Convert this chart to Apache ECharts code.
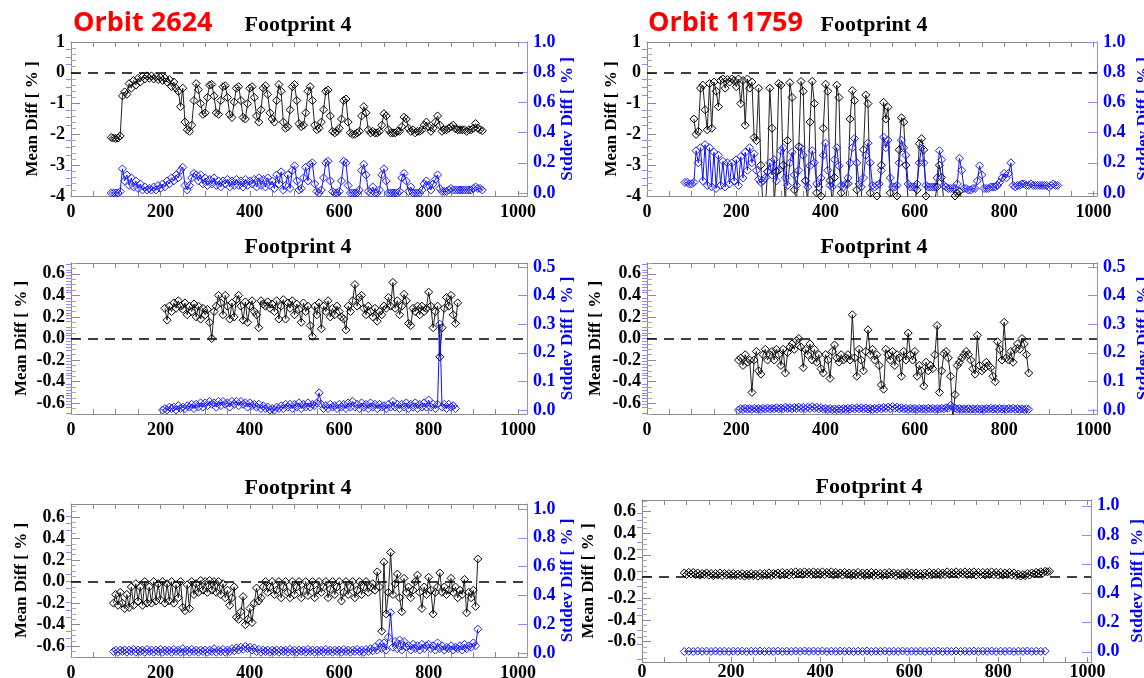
<!DOCTYPE html>
<html><head><meta charset="utf-8">
<script src="https://cdn.jsdelivr.net/npm/echarts@6/dist/echarts.min.js"></script>
<style>html,body{margin:0;padding:0;background:#fff}#c{width:1144px;height:678px}</style>
</head><body><div id="c"></div>
<script>
// ---------------- DATA (sampled every STEP scan indices) ----------------
const STEP = 5;
const xTickLabels = [0, 200, 400, 600, 800, 1000];
const orbitTitles = ['Orbit 2624', 'Orbit 11759'];
const panelTitle = 'Footprint 4';
const leftName = 'Mean Diff [ % ]';
const rightName = 'Stddev Diff [ % ]';

// Panel 1 (Orbit 2624, top-left)
const p1MeanStart = 90;
const p1Mean = [
 -2.10,-2.12,-2.13,-2.12,-2.05,-0.75,-0.62,-0.70,-0.35,-0.50,
 -0.25,-0.40,-0.18,-0.30,-0.12,-0.20,-0.10,-0.18,-0.10,-0.20,
 -0.12,-0.22,-0.15,-0.25,-0.17,-0.30,-0.22,-0.45,-0.30,-0.50,
 -0.60,-1.10,-0.50,-1.60,-1.85,-1.90,-1.70,-0.90,-0.35,-0.55,
 -1.00,-1.35,-1.30,-0.80,-0.40,-0.38,-0.75,-1.30,-1.35,-0.90,
 -0.45,-0.42,-0.80,-1.35,-1.45,-0.95,-0.50,-0.45,-0.90,-1.45,
 -1.50,-1.00,-0.50,-0.45,-0.80,-1.40,-1.60,-1.20,-0.50,-0.42,
 -0.70,-1.30,-1.50,-1.60,-0.90,-0.38,-0.60,-1.60,-1.80,-1.75,
 -1.20,-0.45,-0.38,-0.90,-1.65,-1.75,-1.70,-1.30,-0.60,-0.45,
 -0.90,-1.70,-1.85,-1.80,-1.60,-1.20,-0.60,-0.56,-1.40,-1.90,
 -1.95,-1.90,-1.80,-1.50,-0.90,-0.85,-1.60,-1.95,-2.00,-2.00,
 -1.95,-1.90,-1.40,-1.10,-1.30,-1.85,-1.95,-1.90,-1.95,-1.95,
 -1.90,-1.70,-1.33,-1.40,-1.85,-1.95,-1.95,-1.95,-1.90,-1.90,
 -1.75,-1.44,-1.50,-1.80,-1.90,-1.85,-1.95,-1.90,-1.90,-1.85,
 -1.70,-1.60,-1.75,-1.90,-1.80,-1.60,-1.40,-1.70,-1.90,-1.85,
 -1.85,-1.80,-1.75,-1.70,-1.82,-1.85,-1.85,-1.85,-1.85,-1.90,
 -1.85,-1.85,-1.80,-1.65,-1.80,-1.85,-1.88
];
const p1StdStart = 90;
const p1Std = [
 0.00,0.00,0.00,0.00,0.01,0.16,0.08,0.12,0.05,0.10,
 0.04,0.08,0.03,0.06,0.02,0.04,0.02,0.03,0.02,0.04,
 0.02,0.05,0.03,0.06,0.04,0.08,0.06,0.10,0.08,0.12,
 0.10,0.15,0.17,0.05,0.02,0.05,0.10,0.13,0.12,0.08,
 0.12,0.06,0.10,0.05,0.09,0.06,0.10,0.05,0.08,0.04,
 0.08,0.06,0.09,0.04,0.08,0.05,0.09,0.05,0.08,0.04,
 0.09,0.05,0.08,0.06,0.09,0.04,0.10,0.05,0.09,0.04,
 0.10,0.05,0.08,0.03,0.12,0.06,0.14,0.02,0.05,0.12,
 0.03,0.15,0.18,0.08,0.02,0.03,0.10,0.17,0.08,0.19,
 0.20,0.06,0.01,0.00,0.02,0.10,0.20,0.21,0.08,0.01,
 0.00,0.00,0.01,0.08,0.21,0.20,0.05,0.00,0.00,0.00,
 0.00,0.02,0.15,0.19,0.12,0.01,0.00,0.04,0.00,0.00,
 0.02,0.12,0.16,0.08,0.00,0.00,0.00,0.00,0.00,0.01,
 0.10,0.13,0.08,0.01,0.04,0.00,0.00,0.00,0.00,0.02,
 0.06,0.08,0.05,0.02,0.06,0.09,0.12,0.03,0.01,0.01,
 0.01,0.02,0.03,0.02,0.02,0.02,0.02,0.02,0.02,0.02,
 0.02,0.02,0.03,0.04,0.03,0.03,0.02
];

// Panel 2 (Orbit 11759, top-right)
const p2MeanStart = 105;
const p2Mean = [
 -1.5,-2.0,-1.9,-0.5,-0.4,-1.2,-1.85,-0.35,-1.8,-0.3,
 -0.6,-1.1,-0.25,-0.2,-0.5,-0.22,-0.3,-0.2,-0.25,-0.45,
 -0.2,-1.0,-0.25,-1.7,-0.2,-0.5,-0.3,-2.1,-2.2,-0.5,
 -3.0,-4.4,-4.4,-3.2,-0.5,-1.8,-4.2,-3.2,-0.35,-0.4,
 -3.0,-4.3,-2.2,-0.32,-0.8,-3.8,-4.2,-2.4,-0.28,-0.6,
 -3.5,-4.2,-1.6,-0.28,-1.0,-3.9,-4.3,-4.0,-1.8,-0.37,
 -0.6,-3.5,-4.2,-3.4,-0.4,-0.8,-3.9,-4.3,-4.1,-3.6,
 -1.5,-0.58,-0.9,-3.8,-4.3,-4.1,-2.5,-0.72,-1.0,-3.9,
 -4.3,-4.2,-4.0,-4.3,-3.0,-0.96,-1.5,-1.12,-3.9,-4.3,
 -4.2,-4.0,-2.5,-1.46,-1.6,-3.0,-4.2,-4.4,-4.3,-4.2,
 -3.8,-2.3,-2.14,-2.5,-4.0,-4.4,-4.3,-4.2,-4.1,-3.7,
 -3.0,-3.4,-4.2,-4.3,-4.2,-4.1,-4.2,-4.0,-3.9,-3.85,
 -4.1,-4.3
];
const p2StdStart = 85;
const p2Std = [
 0.07,0.07,0.06,0.06,0.07,0.28,0.20,0.30,0.08,0.32,
 0.05,0.30,0.04,0.27,0.03,0.25,0.05,0.21,0.04,0.20,
 0.06,0.20,0.08,0.22,0.05,0.24,0.10,0.27,0.15,0.30,
 0.20,0.26,0.15,0.09,0.07,0.08,0.10,0.14,0.20,0.12,
 0.22,0.08,0.15,0.28,0.30,0.10,0.05,0.20,0.27,0.12,
 0.05,0.15,0.30,0.25,0.08,0.04,0.18,0.28,0.20,0.06,
 0.04,0.10,0.25,0.33,0.15,0.05,0.04,0.22,0.30,0.18,
 0.05,0.04,0.06,0.10,0.20,0.30,0.36,0.20,0.06,0.04,
 0.10,0.25,0.33,0.20,0.05,0.04,0.05,0.06,0.15,0.37,
 0.30,0.35,0.10,0.04,0.04,0.05,0.20,0.35,0.30,0.25,
 0.06,0.04,0.04,0.04,0.06,0.20,0.30,0.20,0.05,0.04,
 0.04,0.04,0.04,0.10,0.28,0.22,0.05,0.04,0.03,0.03,
 0.03,0.03,0.06,0.23,0.15,0.03,0.03,0.02,0.02,0.03,
 0.03,0.08,0.18,0.12,0.03,0.03,0.03,0.04,0.04,0.04,
 0.05,0.07,0.10,0.13,0.10,0.13,0.20,0.05,0.04,0.05,
 0.05,0.06,0.06,0.05,0.05,0.06,0.05,0.05,0.05,0.05,
 0.05,0.05,0.05,0.04,0.05,0.06,0.05,0.05
];

// Panel 3 (middle-left)
const p3MeanStart = 210;
const p3Mean = [
 0.28,0.17,0.30,0.25,0.33,0.28,0.35,0.30,0.27,0.33,
 0.22,0.30,0.25,0.32,0.20,0.30,0.18,0.28,0.22,0.27,
 0.15,0.00,0.25,0.30,0.40,0.33,0.22,0.40,0.30,0.18,
 0.33,0.20,0.36,0.40,0.30,0.17,0.34,0.15,0.30,0.35,
 0.25,0.22,0.10,0.35,0.32,0.30,0.34,0.28,0.32,0.25,
 0.35,0.18,0.30,0.36,0.18,0.33,0.28,0.35,0.22,0.32,
 0.27,0.15,0.33,0.25,0.30,0.12,0.02,0.30,0.22,0.33,
 0.09,0.30,0.25,0.35,0.20,0.28,0.22,0.30,0.25,0.20,
 0.18,0.08,0.30,0.25,0.35,0.50,0.30,0.38,0.40,0.28,
 0.22,0.30,0.25,0.20,0.28,0.16,0.25,0.22,0.30,0.28,
 0.38,0.30,0.52,0.28,0.35,0.22,0.30,0.41,0.35,0.14,
 0.12,0.28,0.25,0.30,0.22,0.30,0.25,0.28,0.43,0.30,
 0.10,0.25,0.30,-0.17,0.10,0.28,0.38,0.30,0.40,0.22,
 0.14,0.33
];
const p3StdStart = 205;
const p3Std = [
 0.000,0.005,0.000,0.010,0.005,0.010,0.000,0.015,0.005,0.010,
 0.005,0.015,0.010,0.020,0.005,0.020,0.010,0.025,0.010,0.025,
 0.015,0.030,0.020,0.025,0.010,0.030,0.015,0.030,0.020,0.025,
 0.010,0.030,0.020,0.030,0.015,0.030,0.020,0.025,0.010,0.025,
 0.015,0.020,0.010,0.020,0.005,0.015,0.005,0.010,0.000,0.005,
 0.000,0.010,0.005,0.015,0.005,0.020,0.010,0.020,0.005,0.020,
 0.010,0.025,0.005,0.020,0.010,0.025,0.010,0.020,0.015,0.025,
 0.060,0.020,0.005,0.015,0.005,0.020,0.010,0.015,0.005,0.020,
 0.010,0.020,0.005,0.025,0.010,0.030,0.010,0.020,0.005,0.025,
 0.010,0.020,0.005,0.025,0.010,0.020,0.005,0.020,0.010,0.015,
 0.005,0.020,0.010,0.030,0.010,0.020,0.005,0.020,0.010,0.025,
 0.005,0.020,0.010,0.025,0.005,0.020,0.010,0.025,0.010,0.035,
 0.010,0.020,0.005,0.020,0.300,0.010,0.020,0.005,0.020,0.010,
 0.015,0.005
];

// Panel 4 (middle-right)
const p4MeanStart = 205;
const p4Mean = [
 -0.20,-0.18,-0.25,-0.15,-0.22,-0.20,-0.50,-0.20,-0.12,-0.30,
 -0.33,-0.15,-0.10,-0.20,-0.15,-0.12,-0.20,-0.10,-0.15,-0.25,
 -0.10,-0.32,-0.13,-0.08,-0.05,-0.10,-0.02,0.00,-0.08,-0.27,
 -0.10,-0.15,-0.05,-0.20,-0.10,-0.22,-0.15,-0.28,-0.32,-0.15,
 -0.20,-0.37,-0.12,-0.06,-0.18,-0.22,-0.15,-0.20,-0.18,-0.15,
 -0.20,0.22,-0.18,-0.35,-0.10,-0.20,-0.30,-0.12,0.08,-0.15,
 -0.10,-0.20,-0.15,-0.25,-0.43,-0.47,-0.10,-0.15,-0.20,-0.12,
 -0.25,-0.15,-0.18,-0.35,-0.12,-0.20,0.05,-0.15,-0.20,-0.12,
 -0.35,-0.25,-0.30,-0.44,-0.22,-0.30,-0.25,-0.28,-0.15,0.12,
 -0.50,-0.30,-0.14,-0.12,-0.18,-0.35,-0.75,-0.52,-0.25,-0.22,
 -0.18,-0.15,-0.12,-0.15,-0.20,-0.28,-0.33,0.03,-0.25,-0.30,
 -0.28,-0.22,-0.25,-0.27,-0.35,-0.40,-0.03,-0.10,-0.20,0.15,
 -0.18,-0.20,-0.12,-0.22,-0.10,-0.05,-0.10,0.00,-0.05,-0.15,
 -0.32
];
const p4StdStart = 205;
const p4Std = [
 0.000,0.005,0.002,0.006,0.003,0.005,0.002,0.006,0.003,0.005,
 0.002,0.006,0.003,0.007,0.003,0.006,0.004,0.008,0.004,0.007,
 0.004,0.010,0.005,0.008,0.004,0.009,0.005,0.010,0.005,0.009,
 0.004,0.010,0.005,0.012,0.006,0.010,0.004,0.008,0.003,0.006,
 0.002,0.005,0.001,0.004,0.001,0.004,0.001,0.005,0.002,0.006,
 0.003,0.007,0.003,0.008,0.004,0.008,0.003,0.007,0.003,0.006,
 0.002,0.006,0.003,0.008,0.004,0.009,0.005,0.010,0.005,0.012,
 0.006,0.010,0.004,0.008,0.003,0.006,0.002,0.006,0.003,0.005,
 0.002,0.006,0.003,0.005,0.002,0.006,0.003,0.006,0.002,0.005,
 0.003,0.006,0.004,0.008,0.006,0.016,0.010,0.006,0.003,0.005,
 0.002,0.004,0.002,0.005,0.002,0.004,0.002,0.005,0.002,0.004,
 0.002,0.005,0.003,0.006,0.003,0.005,0.002,0.006,0.003,0.005,
 0.002,0.005,0.003,0.006,0.002,0.005,0.002,0.004,0.002,0.004,
 0.002
];

// Panel 5 (bottom-left)
const p5MeanStart = 95;
const p5Mean = [
 -0.20,-0.12,-0.22,-0.10,-0.20,-0.25,-0.12,-0.24,-0.05,-0.22,
 -0.02,-0.18,-0.05,-0.22,0.00,-0.20,-0.05,-0.20,0.00,-0.18,
 -0.02,-0.17,0.00,-0.20,-0.02,-0.18,0.00,-0.20,-0.03,-0.15,
 0.00,-0.24,-0.27,-0.03,-0.25,0.00,-0.12,-0.02,-0.10,0.01,
 -0.08,0.00,-0.10,0.01,-0.08,0.00,-0.10,0.00,-0.12,-0.02,
 -0.15,-0.08,-0.22,-0.15,-0.05,-0.33,-0.35,-0.28,-0.14,-0.40,
 -0.35,-0.25,-0.38,-0.20,-0.06,-0.18,-0.15,-0.05,0.00,-0.10,
 -0.05,0.00,-0.12,-0.08,0.00,-0.15,-0.05,0.00,-0.10,-0.15,
 0.00,-0.12,-0.05,0.00,-0.15,-0.08,0.00,-0.13,-0.05,0.00,
 -0.15,-0.08,0.00,-0.10,-0.05,0.00,-0.15,-0.07,0.00,-0.12,
 -0.05,0.00,-0.18,-0.10,0.00,-0.12,-0.05,0.00,-0.15,-0.08,
 0.00,-0.12,-0.05,0.00,-0.10,-0.05,-0.02,-0.08,0.09,-0.05,
 -0.46,0.18,-0.30,-0.10,0.27,-0.12,-0.02,0.07,-0.15,-0.28,
 0.03,-0.10,-0.05,-0.15,-0.08,0.00,0.06,-0.10,-0.25,-0.05,
 -0.12,0.04,-0.08,-0.30,-0.10,-0.05,0.08,-0.10,-0.05,-0.12,
 -0.08,0.03,-0.10,-0.05,-0.15,-0.08,-0.12,0.02,-0.29,-0.10,
 -0.15,-0.08,-0.23,0.21
];
const p5StdStart = 95;
const p5Std = [
 0.010,0.020,0.005,0.020,0.010,0.020,0.005,0.020,0.010,0.025,
 0.005,0.020,0.010,0.020,0.005,0.025,0.010,0.020,0.005,0.020,
 0.010,0.025,0.005,0.020,0.010,0.020,0.005,0.025,0.010,0.020,
 0.005,0.030,0.010,0.020,0.005,0.025,0.010,0.020,0.005,0.020,
 0.010,0.020,0.005,0.020,0.010,0.030,0.005,0.020,0.010,0.025,
 0.005,0.020,0.010,0.030,0.015,0.035,0.020,0.040,0.025,0.045,
 0.030,0.040,0.020,0.035,0.010,0.025,0.005,0.020,0.010,0.020,
 0.005,0.020,0.010,0.020,0.005,0.020,0.010,0.020,0.005,0.025,
 0.010,0.020,0.005,0.020,0.010,0.020,0.005,0.025,0.010,0.020,
 0.005,0.020,0.010,0.020,0.005,0.025,0.010,0.020,0.005,0.020,
 0.010,0.020,0.005,0.025,0.010,0.020,0.005,0.020,0.010,0.025,
 0.010,0.020,0.005,0.025,0.010,0.030,0.015,0.040,0.020,0.070,
 0.030,0.070,0.020,0.110,0.280,0.040,0.080,0.030,0.090,0.020,
 0.080,0.040,0.050,0.020,0.060,0.030,0.050,0.020,0.060,0.030,
 0.050,0.060,0.030,0.050,0.020,0.070,0.030,0.050,0.020,0.040,
 0.030,0.050,0.020,0.040,0.030,0.050,0.020,0.060,0.030,0.050,
 0.040,0.070,0.050,0.165
];

// Panel 6 (bottom-right)
const p6MeanStart = 95;
const p6Mean = [
 0.035,0.020,0.040,0.025,0.040,0.020,0.035,0.015,0.030,0.020,
 0.035,0.015,0.030,0.010,0.030,0.015,0.035,0.010,0.030,0.015,
 0.030,0.010,0.030,0.010,0.025,0.010,0.030,0.005,0.025,0.010,
 0.030,0.010,0.025,0.005,0.030,0.010,0.030,0.015,0.035,0.010,
 0.030,0.020,0.035,0.015,0.040,0.020,0.035,0.015,0.040,0.020,
 0.045,0.025,0.040,0.020,0.045,0.025,0.040,0.020,0.045,0.020,
 0.040,0.020,0.045,0.020,0.040,0.025,0.045,0.015,0.040,0.020,
 0.035,0.015,0.040,0.020,0.035,0.010,0.035,0.015,0.040,0.015,
 0.035,0.010,0.035,0.015,0.040,0.010,0.035,0.015,0.030,0.010,
 0.035,0.015,0.040,0.020,0.035,0.010,0.030,0.015,0.035,0.010,
 0.040,0.015,0.035,0.010,0.035,0.015,0.030,0.010,0.035,0.015,
 0.040,0.015,0.035,0.020,0.040,0.015,0.035,0.020,0.045,0.020,
 0.040,0.025,0.045,0.020,0.040,0.025,0.045,0.020,0.040,0.020,
 0.045,0.015,0.040,0.020,0.040,0.015,0.040,0.020,0.045,0.020,
 0.040,0.015,0.040,0.015,0.035,0.020,0.040,0.015,0.035,0.010,
 0.025,0.005,0.020,0.010,0.030,0.015,0.035,0.025,0.040,0.030,
 0.045,0.035,0.050,0.045,0.050
];
const p6StdStart = 95;
const p6StdStep = 10;
const p6Std = [
 0.002,0.004,0.002,0.005,0.003,0.004,0.002,0.005,0.003,0.004,
 0.002,0.004,0.003,0.005,0.002,0.004,0.003,0.005,0.002,0.004,
 0.003,0.005,0.002,0.004,0.003,0.005,0.003,0.006,0.003,0.005,
 0.003,0.005,0.002,0.004,0.003,0.005,0.003,0.004,0.002,0.004,
 0.003,0.005,0.002,0.004,0.003,0.005,0.002,0.004,0.003,0.005,
 0.002,0.004,0.003,0.005,0.002,0.004,0.003,0.005,0.002,0.004,
 0.003,0.005,0.002,0.004,0.003,0.005,0.002,0.004,0.003,0.005,
 0.002,0.004,0.003,0.005,0.002,0.004,0.003,0.005,0.002,0.004,
 0.003,0.004
];

// Axis tick label values
const yTicksLarge = [-4, -3, -2, -1, 0, 1];
const yTicksSmall = [-0.6, -0.4, -0.2, 0.0, 0.2, 0.4, 0.6];
const rTicksUnit = [0.0, 0.2, 0.4, 0.6, 0.8, 1.0];
const rTicksHalf = [0.0, 0.1, 0.2, 0.3, 0.4, 0.5];

// ---------------- LAYOUT / STYLE ----------------
const SERIF = '"Liberation Serif","DejaVu Serif",serif';
const GRAY = '#8a8a8a';
const BLUE = '#0000ff';
const LBLUE = '#8c8cff';

const panels = [
  {g:{left:71, top:42, width:456, height:154}, xMax:1020, xMargin:7,
   yL:{min:-4.0, max:1.0, major:yTicksLarge, minor:0.2, dec:0}, yR:{min:-0.02, max:1.0, major:rTicksUnit, minor:0.05},
   mean:[p1MeanStart, STEP, p1Mean], std:[p1StdStart, STEP, p1Std], gapL:30, gapR:29},
  {g:{left:647, top:42, width:450, height:154}, xMax:1008, xMargin:7,
   yL:{min:-4.0, max:1.0, major:yTicksLarge, minor:0.2, dec:0}, yR:{min:-0.02, max:1.0, major:rTicksUnit, minor:0.05},
   mean:[p2MeanStart, STEP, p2Mean], std:[p2StdStart, STEP, p2Std], gapL:27, gapR:38},
  {g:{left:71, top:263, width:456, height:151}, xMax:1020, xMargin:7,
   yL:{min:-0.7, max:0.7, major:yTicksSmall, minor:0.05, dec:1}, yR:{min:-0.014, max:0.514, major:rTicksHalf, minor:0.01},
   mean:[p3MeanStart, STEP, p3Mean], std:[p3StdStart, STEP, p3Std], gapL:41, gapR:27},
  {g:{left:647, top:263, width:450, height:151}, xMax:1008, xMargin:7,
   yL:{min:-0.7, max:0.7, major:yTicksSmall, minor:0.05, dec:1}, yR:{min:-0.014, max:0.514, major:rTicksHalf, minor:0.01},
   mean:[p4MeanStart, STEP, p4Mean], std:[p4StdStart, STEP, p4Std], gapL:43, gapR:38},
  {g:{left:71, top:504, width:456, height:153}, xMax:1020, xMargin:7,
   yL:{min:-0.7, max:0.72, major:yTicksSmall, minor:0.05, dec:1}, yR:{min:-0.028, max:1.035, major:rTicksUnit, minor:0.05},
   mean:[p5MeanStart, STEP, p5Mean], std:[p5StdStart, STEP, p5Std], gapL:41, gapR:31},
  {g:{left:642, top:500, width:449, height:162}, xMax:1008, xMargin:1,
   yL:{min:-0.787, max:0.708, major:yTicksSmall, minor:0.05, dec:1}, yR:{min:-0.07, max:1.04, major:rTicksUnit, minor:0.05},
   mean:[p6MeanStart, STEP, p6Mean], std:[p6StdStart, p6StdStep, p6Std], gapL:45, gapR:38}
];

const titlePos = [[298,25],[874,25],[298,247],[874,247],[298,488],[869,487]];
const orbitPos = [[73,23],[648,23]];

function pairs(x0, step, vals){ return vals.map((v,i)=>[x0 + i*step, v]); }
function multiples(min, max, step){
  const out=[]; const k0=Math.ceil(min/step-1e-9), k1=Math.floor(max/step+1e-9);
  for(let k=k0;k<=k1;k++) out.push(+(k*step).toFixed(4));
  return out;
}
function without(all, major){ return all.filter(v=>!major.some(m=>Math.abs(m-v)<1e-6)); }

const grid=[], xAxis=[], yAxis=[], series=[], graphic=[];
panels.forEach((p,i)=>{
  grid.push(Object.assign({show:false, containLabel:false, outerBoundsMode:'none'}, p.g));
  const xTicks = multiples(0, p.xMax, 50);
  const xBase = {type:'value', gridIndex:i, min:0, max:p.xMax, splitLine:{show:false},
    axisLine:{show:true, onZero:false, lineStyle:{color:GRAY, width:1}},
    axisTick:{show:true, inside:true, length:5, customValues:xTicks, lineStyle:{color:GRAY}}};
  xAxis.push(Object.assign({}, xBase, {position:'bottom',
    axisLabel:{show:true, customValues:xTickLabels, margin:p.xMargin, color:'#000', fontFamily:SERIF, fontWeight:'bold', fontSize:18,
      formatter:v=>String(Math.round(v))}}));
  xAxis.push(Object.assign({}, xBase, {position:'top', axisLabel:{show:false}}));

  const L=p.yL, R=p.yR;
  const lMinor = without(multiples(L.min, L.max, L.minor), L.major);
  const rMinor = without(multiples(R.min, R.max, R.minor), R.major);
  yAxis.push({type:'value', gridIndex:i, position:'left', min:L.min, max:L.max, splitLine:{show:false},
    axisLine:{show:true, onZero:false, lineStyle:{color:GRAY}},
    axisTick:{show:true, inside:true, length:9, customValues:L.major, lineStyle:{color:GRAY}},
    axisLabel:{show:true, customValues:L.major, margin:6, color:'#000', fontFamily:SERIF, fontWeight:'bold', fontSize:18,
      formatter:v=>(+v).toFixed(L.dec)},
    name:leftName, nameLocation:'middle', nameGap:p.gapL,
    nameTextStyle:{color:'#000', fontFamily:SERIF, fontWeight:'bold', fontSize:17}});
  yAxis.push({type:'value', gridIndex:i, position:'left', min:L.min, max:L.max, splitLine:{show:false},
    axisLine:{show:false}, axisLabel:{show:false},
    axisTick:{show:true, inside:true, length:5, customValues:lMinor, lineStyle:{color:'#aaa'}}});
  yAxis.push({type:'value', gridIndex:i, position:'right', min:R.min, max:R.max, splitLine:{show:false},
    axisLine:{show:true, onZero:false, lineStyle:{color:LBLUE}},
    axisTick:{show:true, inside:true, length:9, customValues:R.major, lineStyle:{color:LBLUE}},
    axisLabel:{show:true, customValues:R.major, margin:6, color:BLUE, fontFamily:SERIF, fontWeight:'bold', fontSize:18,
      formatter:v=>(+v).toFixed(1)},
    name:rightName, nameLocation:'middle', nameGap:p.gapR,
    nameTextStyle:{color:BLUE, fontFamily:SERIF, fontWeight:'bold', fontSize:17}});
  yAxis.push({type:'value', gridIndex:i, position:'right', min:R.min, max:R.max, splitLine:{show:false},
    axisLine:{show:false}, axisLabel:{show:false},
    axisTick:{show:true, inside:true, length:5, customValues:rMinor, lineStyle:{color:LBLUE}}});

  series.push({type:'line', name:'mean'+i, xAxisIndex:2*i, yAxisIndex:4*i, silent:true, clip:true,
    data:pairs(p.mean[0], p.mean[1], p.mean[2]),
    symbol:'diamond', symbolSize:8, showSymbol:true, showAllSymbol:true,
    itemStyle:{color:'rgba(0,0,0,0)', borderColor:'#000', borderWidth:1},
    lineStyle:{color:'#222', width:1},
    markLine:{silent:true, symbol:['none','none'], label:{show:false},
      lineStyle:{color:'#000', type:[10,7], width:1.5}, data:[{yAxis:0}]}});
  series.push({type:'line', name:'std'+i, xAxisIndex:2*i, yAxisIndex:4*i+2, silent:true, clip:true,
    data:pairs(p.std[0], p.std[1], p.std[2]),
    symbol:'diamond', symbolSize:8, showSymbol:true, showAllSymbol:true,
    itemStyle:{color:'rgba(0,0,0,0)', borderColor:'#2020ff', borderWidth:1},
    lineStyle:{color:'#1010ff', width:1}});
});

titlePos.forEach(([x,y])=>graphic.push({type:'text', x, y, silent:true,
  style:{text:panelTitle, font:'bold 22px '+SERIF, fill:'#000', textAlign:'center', textVerticalAlign:'middle', verticalAlign:'middle'}}));
orbitTitles.forEach((t,k)=>graphic.push({type:'text', x:orbitPos[k][0], y:orbitPos[k][1], silent:true,
  style:{text:t, font:'bold 27px "Open Sans","Liberation Sans",sans-serif', fill:'#ff0000', textAlign:'left', textVerticalAlign:'middle', verticalAlign:'middle'}}));

const chart = echarts.init(document.getElementById('c'), null, {renderer:'canvas'});
chart.setOption({backgroundColor:'#fff', animation:false, grid, xAxis, yAxis, series, graphic});
</script></body></html>
